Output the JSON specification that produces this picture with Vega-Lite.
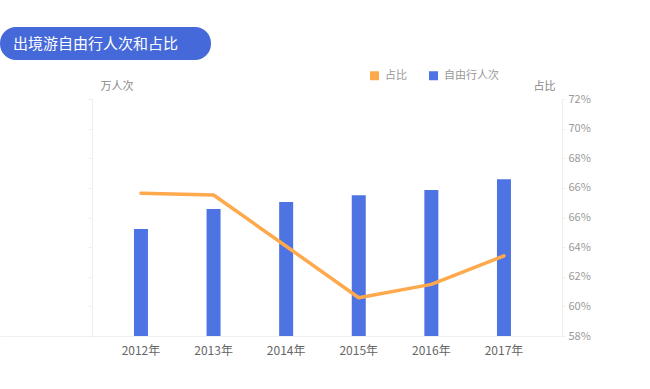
{
  "$schema": "https://vega.github.io/schema/vega-lite/v6.json",
  "padding": {"left": 0, "top": 27, "right": 0, "bottom": 0},
  "background": "white",
  "config": {
    "font": "Noto Sans CJK SC",
    "view": {"stroke": null}
  },
  "spacing": 20,
  "vconcat": [
    {
      "width": 211,
      "height": 33,
      "view": {"fill": "#4569d8", "cornerRadius": 16, "stroke": null},
      "data": {"values": [{"t": "出境游自由行人次和占比"}]},
      "mark": {"type": "text", "color": "white", "fontSize": 15, "dx": -10, "baseline": "middle"},
      "encoding": {"text": {"field": "t"}}
    },
    {
      "width": 562,
      "height": 237,
      "data": {
        "values": [
          {"year": "2012年", "人次": 722, "占比": 66.43},
          {"year": "2013年", "人次": 857, "占比": 66.33},
          {"year": "2014年", "人次": 905, "占比": 63.3},
          {"year": "2015年", "人次": 950, "占比": 60.26},
          {"year": "2016年", "人次": 986, "占比": 61.05},
          {"year": "2017年", "人次": 1058, "占比": 62.73}
        ]
      },
      "encoding": {
        "x": {
          "field": "year",
          "type": "ordinal",
          "sort": null,
          "scale": {"paddingInner": 0, "paddingOuter": 0.8705, "align": 0.828},
          "axis": {
            "title": null,
            "labelAngle": 0,
            "labelColor": "#666",
            "labelFontSize": 12,
            "ticks": false,
            "domainColor": "#f0f0f0",
            "labelPadding": 9,
            "grid": false
          }
        }
      },
      "layer": [
        {
          "mark": {"type": "bar", "width": 14, "color": "#4e73e2"},
          "encoding": {
            "y": {
              "field": "人次",
              "type": "quantitative",
              "scale": {"domain": [0, 1600]},
              "axis": {
                "title": "万人次",
                "offset": -92,
                "titleAngle": 0,
                "titleX": 8,
                "titleY": -13,
                "titleAlign": "left",
                "titleBaseline": "middle",
                "titleColor": "#888",
                "titleFontSize": 11,
                "titleFontWeight": "normal",
                "labels": false,
                "values": [0, 200, 400, 600, 800, 1000, 1200, 1400, 1600],
                "tickSize": 4,
                "tickColor": "#eeeeee",
                "domainColor": "#eeeeee",
                "grid": false
              }
            },
            "color": {
              "datum": "自由行人次",
              "type": "nominal",
              "scale": {"domain": ["占比", "自由行人次"], "range": ["#ffa94d", "#4e73e2"]},
              "legend": {
                "orient": "none",
                "legendX": 369,
                "legendY": 43,
                "direction": "horizontal",
                "title": null,
                "symbolType": "square",
                "symbolSize": 81,
                "symbolStrokeWidth": 0,
                "labelColor": "#999",
                "labelFontSize": 11,
                "labelOffset": 5,
                "columnPadding": 21
              }
            }
          }
        },
        {
          "mark": {"type": "line", "strokeWidth": 3.5, "strokeJoin": "round", "strokeCap": "round"},
          "encoding": {
            "y": {
              "field": "占比",
              "type": "quantitative",
              "scale": {"domain": [58, 72]},
              "axis": {
                "orient": "right",
                "title": "占比",
                "titleAngle": 0,
                "titleX": -7,
                "titleY": -13,
                "titleAlign": "right",
                "titleBaseline": "middle",
                "titleColor": "#888",
                "titleFontSize": 11,
                "titleFontWeight": "normal",
                "values": [58, 59.75, 61.5, 63.25, 65, 66.75, 68.5, 70.25, 72],
                "labelExpr": "datum.value < 59 ? '58%' : datum.value < 61 ? '60%' : datum.value < 62.5 ? '62%' : datum.value < 64 ? '64%' : datum.value < 66 ? '66%' : datum.value < 67.5 ? '66%' : datum.value < 69 ? '68%' : datum.value < 71 ? '70%' : '72%'",
                "labelColor": "#999",
                "labelFontSize": 11,
                "labelPadding": 3,
                "tickSize": 3,
                "tickColor": "#eeeeee",
                "domainColor": "#eeeeee",
                "grid": false
              }
            },
            "color": {"datum": "占比", "type": "nominal"}
          }
        }
      ],
      "resolve": {"scale": {"y": "independent"}}
    }
  ]
}
